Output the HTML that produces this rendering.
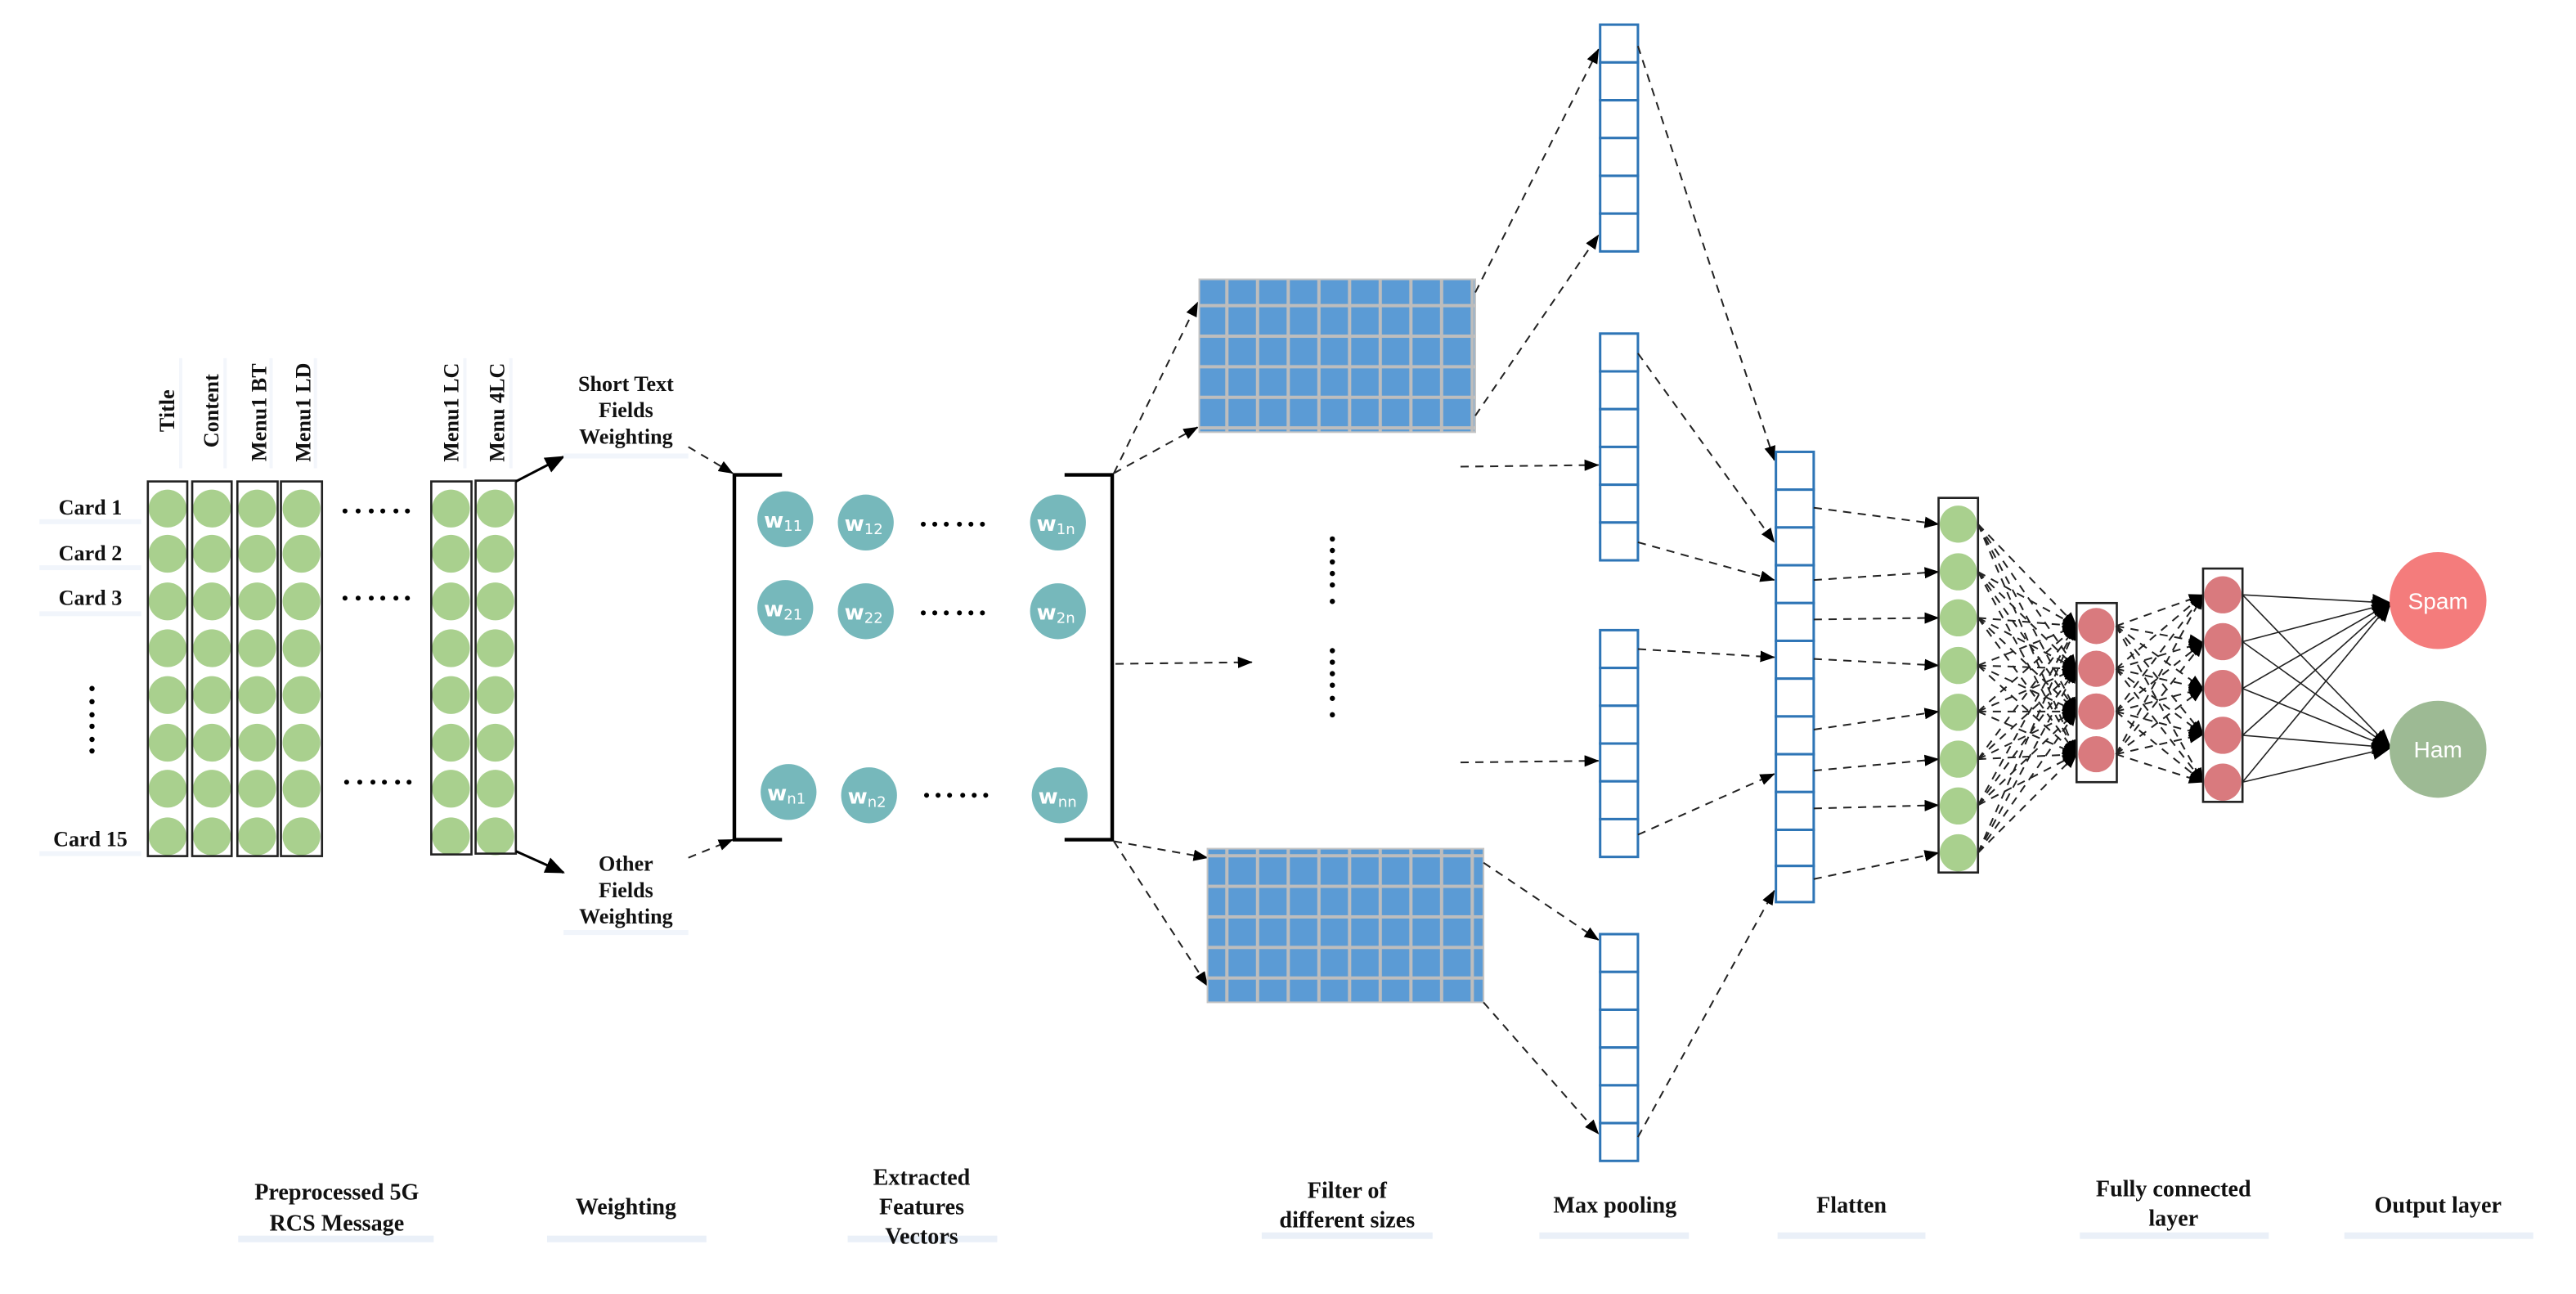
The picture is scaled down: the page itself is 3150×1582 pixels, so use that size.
<!DOCTYPE html>
<html><head><meta charset="utf-8"><style>
html,body{margin:0;padding:0;background:#fff;}
svg{display:block;}
.s{font-family:"Liberation Serif",serif;font-weight:bold;font-size:13px;fill:#111;}
.b{font-family:"Liberation Serif",serif;font-weight:bold;font-size:14px;fill:#111;}
.w{font-family:"DejaVu Sans","Liberation Sans",sans-serif;font-weight:bold;font-size:13px;fill:#fff;}
.ws{font-size:9px;font-weight:normal;}
.dl{stroke:#222;stroke-width:1;stroke-dasharray:5,4;fill:none;}
.sl{stroke:#222;stroke-width:0.8;fill:none;}
.gc{fill:#a9d08e;}
.rc{fill:#d97a7e;}
.tc{fill:#76b8bb;}
.pc{fill:#fff;stroke:#2e75b6;stroke-width:1.5;}
</style></head><body>
<svg width="3150" height="1582" viewBox="0 0 1568 787.5" preserveAspectRatio="none" xmlns="http://www.w3.org/2000/svg">
<defs>
<marker id="a" markerUnits="userSpaceOnUse" markerWidth="12" markerHeight="10" refX="11" refY="5" orient="auto"><path d="M0,0 L12,5 L0,10 z" fill="#000"/></marker>
<marker id="as" markerUnits="userSpaceOnUse" markerWidth="9" markerHeight="7" refX="8.5" refY="3.5" orient="auto"><path d="M0,0 L9,3.5 L0,7 z" fill="#000"/></marker>
<pattern id="grid" x="0" y="0" width="18.67" height="18.6" patternUnits="userSpaceOnUse"><rect width="18.67" height="18.6" fill="#5b9bd5" stroke="#bdbdbd" stroke-width="2"/></pattern>
<g id="col"><circle cx="0" cy="309.5" r="11.5"/><circle cx="0" cy="337" r="11.5"/><circle cx="0" cy="366" r="11.5"/><circle cx="0" cy="394.5" r="11.5"/><circle cx="0" cy="423" r="11.5"/><circle cx="0" cy="452" r="11.5"/><circle cx="0" cy="480" r="11.5"/><circle cx="0" cy="509" r="11.5"/></g>
<g id="pool"><rect x="974" y="15" width="23" height="23"/><rect x="974" y="38" width="23" height="23"/><rect x="974" y="61" width="23" height="23"/><rect x="974" y="84" width="23" height="23"/><rect x="974" y="107" width="23" height="23"/><rect x="974" y="130" width="23" height="23"/></g>
</defs>

<!-- left label boxes -->
<g fill="#f1f5fb">
<rect x="24" y="316" width="62" height="3"/><rect x="24" y="344" width="62" height="3"/><rect x="24" y="372" width="62" height="3"/><rect x="24" y="518" width="62" height="3"/>
</g>
<text class="s" x="55" y="313" text-anchor="middle">Card 1</text>
<text class="s" x="55" y="341" text-anchor="middle">Card 2</text>
<text class="s" x="55" y="368" text-anchor="middle">Card 3</text>
<text class="s" x="55" y="515" text-anchor="middle">Card 15</text>
<g fill="#000"><circle cx="56" cy="419" r="1.6"/><circle cx="56" cy="427" r="1.6"/><circle cx="56" cy="435" r="1.6"/><circle cx="56" cy="442" r="1.6"/><circle cx="56" cy="450" r="1.6"/><circle cx="56" cy="457" r="1.6"/></g>

<!-- column headers -->
<g fill="#f3f6fb"><rect x="109" y="218" width="2" height="67"/><rect x="136" y="218" width="2" height="67"/><rect x="164" y="218" width="2" height="67"/><rect x="191" y="218" width="2" height="67"/><rect x="282" y="218" width="2" height="67"/><rect x="310" y="218" width="2" height="67"/></g>
<text class="s" transform="translate(106,250) rotate(-90)" text-anchor="middle">Title</text>
<text class="s" transform="translate(133,250) rotate(-90)" text-anchor="middle">Content</text>
<text class="s" transform="translate(162,251) rotate(-90)" text-anchor="middle">Menu1 BT</text>
<text class="s" transform="translate(189,251) rotate(-90)" text-anchor="middle">Menu1 LD</text>
<text class="s" transform="translate(279,251) rotate(-90)" text-anchor="middle">Menu1 LC</text>
<text class="s" transform="translate(307,251) rotate(-90)" text-anchor="middle">Menu 4LC</text>

<!-- input columns -->
<g class="gc">
<use href="#col" x="102"/><use href="#col" x="129"/><use href="#col" x="156.5"/><use href="#col" x="183.5"/><use href="#col" x="274.5"/><use href="#col" x="301.5"/>
</g>
<g fill="none" stroke="#222" stroke-width="1.3">
<rect x="90" y="293" width="24" height="228"/><rect x="117" y="293" width="24" height="228"/><rect x="144.5" y="293" width="24.5" height="228"/><rect x="171" y="293" width="25" height="228"/><rect x="262.5" y="293" width="24.5" height="227"/><rect x="289.5" y="292.5" width="24.5" height="227"/>
</g>
<g fill="#000">
<circle cx="210" cy="311" r="1.5"/><circle cx="218" cy="311" r="1.5"/><circle cx="226" cy="311" r="1.5"/><circle cx="233" cy="311" r="1.5"/><circle cx="241" cy="311" r="1.5"/><circle cx="248" cy="311" r="1.5"/>
<circle cx="210" cy="364" r="1.5"/><circle cx="218" cy="364" r="1.5"/><circle cx="226" cy="364" r="1.5"/><circle cx="233" cy="364" r="1.5"/><circle cx="241" cy="364" r="1.5"/><circle cx="248" cy="364" r="1.5"/>
<circle cx="211" cy="476" r="1.5"/><circle cx="219" cy="476" r="1.5"/><circle cx="227" cy="476" r="1.5"/><circle cx="234" cy="476" r="1.5"/><circle cx="242" cy="476" r="1.5"/><circle cx="249" cy="476" r="1.5"/>
</g>

<!-- weighting -->
<line x1="314" y1="293" x2="343" y2="278" stroke="#000" stroke-width="1.5" marker-end="url(#a)"/>
<line x1="314" y1="518" x2="343" y2="531" stroke="#000" stroke-width="1.5" marker-end="url(#a)"/>
<rect x="343" y="276" width="76" height="3" fill="#f1f5fb"/>
<text class="s" x="381" y="238" text-anchor="middle">Short Text</text>
<text class="s" x="381" y="254" text-anchor="middle">Fields</text>
<text class="s" x="381" y="270" text-anchor="middle">Weighting</text>
<rect x="343" y="566" width="76" height="3" fill="#f1f5fb"/>
<text class="s" x="381" y="530" text-anchor="middle">Other</text>
<text class="s" x="381" y="546" text-anchor="middle">Fields</text>
<text class="s" x="381" y="562" text-anchor="middle">Weighting</text>
<line class="dl" x1="419" y1="272" x2="446" y2="288" marker-end="url(#as)"/>
<line class="dl" x1="419" y1="522" x2="446" y2="511" marker-end="url(#as)"/>

<!-- brackets -->
<path d="M476,289 H447 V511 H476" fill="none" stroke="#000" stroke-width="2.2"/>
<path d="M648,289 H677 V511 H648" fill="none" stroke="#000" stroke-width="2.2"/>

<!-- w circles -->
<g class="tc">
<circle cx="478" cy="316" r="17"/><circle cx="527" cy="318" r="17"/><circle cx="644" cy="318" r="17"/>
<circle cx="478" cy="370" r="17"/><circle cx="527" cy="372" r="17"/><circle cx="644" cy="372" r="17"/>
<circle cx="480" cy="482" r="17"/><circle cx="529" cy="484" r="17"/><circle cx="645" cy="484" r="17"/>
</g>
<g class="w">
<text x="465" y="321">w<tspan class="ws" dy="2">11</tspan></text>
<text x="514" y="323">w<tspan class="ws" dy="2">12</tspan></text>
<text x="631" y="323">w<tspan class="ws" dy="2">1n</tspan></text>
<text x="465" y="375">w<tspan class="ws" dy="2">21</tspan></text>
<text x="514" y="377">w<tspan class="ws" dy="2">22</tspan></text>
<text x="631" y="377">w<tspan class="ws" dy="2">2n</tspan></text>
<text x="467" y="487">w<tspan class="ws" dy="2">n1</tspan></text>
<text x="516" y="489">w<tspan class="ws" dy="2">n2</tspan></text>
<text x="632" y="489">w<tspan class="ws" dy="2">nn</tspan></text>
</g>
<g fill="#000">
<circle cx="562" cy="319" r="1.5"/><circle cx="569" cy="319" r="1.5"/><circle cx="576" cy="319" r="1.5"/><circle cx="584" cy="319" r="1.5"/><circle cx="591" cy="319" r="1.5"/><circle cx="598" cy="319" r="1.5"/>
<circle cx="562" cy="373" r="1.5"/><circle cx="569" cy="373" r="1.5"/><circle cx="576" cy="373" r="1.5"/><circle cx="584" cy="373" r="1.5"/><circle cx="591" cy="373" r="1.5"/><circle cx="598" cy="373" r="1.5"/>
<circle cx="564" cy="484" r="1.5"/><circle cx="571" cy="484" r="1.5"/><circle cx="578" cy="484" r="1.5"/><circle cx="586" cy="484" r="1.5"/><circle cx="593" cy="484" r="1.5"/><circle cx="600" cy="484" r="1.5"/>
</g>

<!-- to filters -->
<line class="dl" x1="678" y1="288" x2="729" y2="184" marker-end="url(#as)"/>
<line class="dl" x1="678" y1="288" x2="729" y2="260" marker-end="url(#as)"/>
<line class="dl" x1="679" y1="404" x2="762" y2="403" marker-end="url(#as)"/>
<line class="dl" x1="678" y1="512" x2="735" y2="522" marker-end="url(#as)"/>
<line class="dl" x1="678" y1="512" x2="735" y2="600" marker-end="url(#as)"/>

<!-- filter grids -->
<rect x="730" y="170" width="168" height="93" fill="url(#grid)" stroke="#c4c4c4" stroke-width="1"/>
<rect x="735" y="516.5" width="168" height="93.5" fill="url(#grid)" stroke="#c4c4c4" stroke-width="1"/>
<g fill="#000">
<circle cx="811" cy="328" r="1.6"/><circle cx="811" cy="335" r="1.6"/><circle cx="811" cy="342" r="1.6"/><circle cx="811" cy="349" r="1.6"/><circle cx="811" cy="356" r="1.6"/><circle cx="811" cy="366" r="1.6"/>
<circle cx="811" cy="396" r="1.6"/><circle cx="811" cy="403" r="1.6"/><circle cx="811" cy="410" r="1.6"/><circle cx="811" cy="417" r="1.6"/><circle cx="811" cy="425" r="1.6"/><circle cx="811" cy="435" r="1.6"/>
</g>

<!-- filter to pooling -->
<line class="dl" x1="898" y1="178" x2="973" y2="30" marker-end="url(#as)"/>
<line class="dl" x1="898" y1="253" x2="973" y2="143" marker-end="url(#as)"/>
<line class="dl" x1="889" y1="284" x2="973" y2="283" marker-end="url(#as)"/>
<line class="dl" x1="889" y1="464" x2="973" y2="463" marker-end="url(#as)"/>
<line class="dl" x1="903" y1="525" x2="973" y2="572" marker-end="url(#as)"/>
<line class="dl" x1="903" y1="610" x2="973" y2="690" marker-end="url(#as)"/>

<!-- pooling columns -->
<g class="pc">
<use href="#pool"/><use href="#pool" y="188"/><use href="#pool" y="368.5"/><use href="#pool" y="553.5"/>
</g>

<!-- pooling to flatten -->
<line class="dl" x1="997" y1="28" x2="1080" y2="280" marker-end="url(#as)"/>
<line class="dl" x1="997" y1="215" x2="1080" y2="330" marker-end="url(#as)"/>
<line class="dl" x1="997" y1="330" x2="1080" y2="353" marker-end="url(#as)"/>
<line class="dl" x1="997" y1="395" x2="1080" y2="400" marker-end="url(#as)"/>
<line class="dl" x1="997" y1="508" x2="1080" y2="471" marker-end="url(#as)"/>
<line class="dl" x1="997" y1="692" x2="1080" y2="542" marker-end="url(#as)"/>

<!-- flatten -->
<g class="pc">
<rect x="1081" y="275" width="23" height="23"/><rect x="1081" y="298" width="23" height="23"/><rect x="1081" y="321" width="23" height="23"/><rect x="1081" y="344" width="23" height="23"/><rect x="1081" y="367" width="23" height="23"/><rect x="1081" y="390" width="23" height="23"/><rect x="1081" y="413" width="23" height="23"/><rect x="1081" y="436" width="23" height="23"/><rect x="1081" y="459" width="23" height="23"/><rect x="1081" y="482" width="23" height="23"/><rect x="1081" y="505" width="23" height="22"/><rect x="1081" y="527" width="23" height="22"/>
</g>

<!-- flatten to green -->
<line class="dl" x1="1104" y1="309" x2="1180" y2="319" marker-end="url(#as)"/>
<line class="dl" x1="1104" y1="353" x2="1180" y2="348" marker-end="url(#as)"/>
<line class="dl" x1="1104" y1="377" x2="1180" y2="376" marker-end="url(#as)"/>
<line class="dl" x1="1104" y1="401" x2="1180" y2="405" marker-end="url(#as)"/>
<line class="dl" x1="1104" y1="444" x2="1180" y2="433" marker-end="url(#as)"/>
<line class="dl" x1="1104" y1="469" x2="1180" y2="462" marker-end="url(#as)"/>
<line class="dl" x1="1104" y1="492" x2="1180" y2="490" marker-end="url(#as)"/>
<line class="dl" x1="1104" y1="535" x2="1180" y2="519" marker-end="url(#as)"/>

<!-- green column -->
<g class="gc">
<circle cx="1192" cy="319" r="11.3"/><circle cx="1192" cy="348" r="11.3"/><circle cx="1192" cy="376" r="11.3"/><circle cx="1192" cy="405" r="11.3"/><circle cx="1192" cy="433.5" r="11.3"/><circle cx="1192" cy="462" r="11.3"/><circle cx="1192" cy="490.5" r="11.3"/><circle cx="1192" cy="519" r="11.3"/>
</g>
<rect x="1180" y="303" width="24" height="228" fill="none" stroke="#222" stroke-width="1.3"/>

<!-- green to red1 -->
<g class="dl" stroke-dasharray="4,3">
<line x1="1204" y1="319" x2="1264" y2="381" marker-end="url(#as)"/><line x1="1204" y1="319" x2="1264" y2="407" marker-end="url(#as)"/><line x1="1204" y1="319" x2="1264" y2="433" marker-end="url(#as)"/><line x1="1204" y1="319" x2="1264" y2="459" marker-end="url(#as)"/>
<line x1="1204" y1="348" x2="1264" y2="381" marker-end="url(#as)"/><line x1="1204" y1="348" x2="1264" y2="407" marker-end="url(#as)"/><line x1="1204" y1="348" x2="1264" y2="433" marker-end="url(#as)"/><line x1="1204" y1="348" x2="1264" y2="459" marker-end="url(#as)"/>
<line x1="1204" y1="376" x2="1264" y2="381" marker-end="url(#as)"/><line x1="1204" y1="376" x2="1264" y2="407" marker-end="url(#as)"/><line x1="1204" y1="376" x2="1264" y2="433" marker-end="url(#as)"/><line x1="1204" y1="376" x2="1264" y2="459" marker-end="url(#as)"/>
<line x1="1204" y1="405" x2="1264" y2="381" marker-end="url(#as)"/><line x1="1204" y1="405" x2="1264" y2="407" marker-end="url(#as)"/><line x1="1204" y1="405" x2="1264" y2="433" marker-end="url(#as)"/><line x1="1204" y1="405" x2="1264" y2="459" marker-end="url(#as)"/>
<line x1="1204" y1="433" x2="1264" y2="381" marker-end="url(#as)"/><line x1="1204" y1="433" x2="1264" y2="407" marker-end="url(#as)"/><line x1="1204" y1="433" x2="1264" y2="433" marker-end="url(#as)"/><line x1="1204" y1="433" x2="1264" y2="459" marker-end="url(#as)"/>
<line x1="1204" y1="462" x2="1264" y2="381" marker-end="url(#as)"/><line x1="1204" y1="462" x2="1264" y2="407" marker-end="url(#as)"/><line x1="1204" y1="462" x2="1264" y2="433" marker-end="url(#as)"/><line x1="1204" y1="462" x2="1264" y2="459" marker-end="url(#as)"/>
<line x1="1204" y1="490" x2="1264" y2="381" marker-end="url(#as)"/><line x1="1204" y1="490" x2="1264" y2="407" marker-end="url(#as)"/><line x1="1204" y1="490" x2="1264" y2="433" marker-end="url(#as)"/><line x1="1204" y1="490" x2="1264" y2="459" marker-end="url(#as)"/>
<line x1="1204" y1="519" x2="1264" y2="381" marker-end="url(#as)"/><line x1="1204" y1="519" x2="1264" y2="407" marker-end="url(#as)"/><line x1="1204" y1="519" x2="1264" y2="433" marker-end="url(#as)"/><line x1="1204" y1="519" x2="1264" y2="459" marker-end="url(#as)"/>
</g>

<!-- red1 -->
<g class="rc"><circle cx="1276" cy="381" r="11"/><circle cx="1276" cy="407" r="11"/><circle cx="1276" cy="433" r="11"/><circle cx="1276" cy="459" r="11"/></g>
<rect x="1264" y="367" width="24.5" height="109" fill="none" stroke="#222" stroke-width="1.3"/>

<!-- red1 to red2 -->
<g class="dl" stroke-dasharray="4,3">
<line x1="1288" y1="381" x2="1341" y2="362" marker-end="url(#as)"/><line x1="1288" y1="381" x2="1341" y2="391" marker-end="url(#as)"/><line x1="1288" y1="381" x2="1341" y2="419" marker-end="url(#as)"/><line x1="1288" y1="381" x2="1341" y2="447" marker-end="url(#as)"/><line x1="1288" y1="381" x2="1341" y2="476" marker-end="url(#as)"/>
<line x1="1288" y1="407" x2="1341" y2="362" marker-end="url(#as)"/><line x1="1288" y1="407" x2="1341" y2="391" marker-end="url(#as)"/><line x1="1288" y1="407" x2="1341" y2="419" marker-end="url(#as)"/><line x1="1288" y1="407" x2="1341" y2="447" marker-end="url(#as)"/><line x1="1288" y1="407" x2="1341" y2="476" marker-end="url(#as)"/>
<line x1="1288" y1="433" x2="1341" y2="362" marker-end="url(#as)"/><line x1="1288" y1="433" x2="1341" y2="391" marker-end="url(#as)"/><line x1="1288" y1="433" x2="1341" y2="419" marker-end="url(#as)"/><line x1="1288" y1="433" x2="1341" y2="447" marker-end="url(#as)"/><line x1="1288" y1="433" x2="1341" y2="476" marker-end="url(#as)"/>
<line x1="1288" y1="459" x2="1341" y2="362" marker-end="url(#as)"/><line x1="1288" y1="459" x2="1341" y2="391" marker-end="url(#as)"/><line x1="1288" y1="459" x2="1341" y2="419" marker-end="url(#as)"/><line x1="1288" y1="459" x2="1341" y2="447" marker-end="url(#as)"/><line x1="1288" y1="459" x2="1341" y2="476" marker-end="url(#as)"/>
</g>

<!-- red2 -->
<g class="rc"><circle cx="1353" cy="362" r="11.3"/><circle cx="1353" cy="390.5" r="11.3"/><circle cx="1353" cy="419" r="11.3"/><circle cx="1353" cy="447.5" r="11.3"/><circle cx="1353" cy="476" r="11.3"/></g>
<rect x="1341" y="346" width="24" height="142" fill="none" stroke="#222" stroke-width="1.3"/>

<!-- red2 to output -->
<g class="sl">
<line x1="1365" y1="362" x2="1455" y2="367" marker-end="url(#a)"/><line x1="1365" y1="362" x2="1455" y2="455" marker-end="url(#a)"/>
<line x1="1365" y1="390.5" x2="1455" y2="367" marker-end="url(#a)"/><line x1="1365" y1="390.5" x2="1455" y2="455" marker-end="url(#a)"/>
<line x1="1365" y1="419" x2="1455" y2="367" marker-end="url(#a)"/><line x1="1365" y1="419" x2="1455" y2="455" marker-end="url(#a)"/>
<line x1="1365" y1="447.5" x2="1455" y2="367" marker-end="url(#a)"/><line x1="1365" y1="447.5" x2="1455" y2="455" marker-end="url(#a)"/>
<line x1="1365" y1="476" x2="1455" y2="367" marker-end="url(#a)"/><line x1="1365" y1="476" x2="1455" y2="455" marker-end="url(#a)"/>
</g>
<circle cx="1484" cy="365.5" r="29.5" fill="#f47c7c"/>
<circle cx="1484" cy="456" r="29.5" fill="#9dba94"/>
<text x="1484" y="370.5" text-anchor="middle" font-family="Liberation Sans Narrow, Liberation Sans, sans-serif" font-size="14" fill="#fff">Spam</text>
<text x="1484" y="461" text-anchor="middle" font-family="Liberation Sans Narrow, Liberation Sans, sans-serif" font-size="14" fill="#fff">Ham</text>

<!-- bottom labels -->
<g fill="#eaf0f8">
<rect x="145" y="752" width="119" height="4"/><rect x="333" y="752" width="97" height="4"/><rect x="516" y="752" width="91" height="4"/><rect x="768" y="750" width="104" height="4"/><rect x="937" y="750" width="91" height="4"/><rect x="1082" y="750" width="90" height="4"/><rect x="1266" y="750" width="115" height="4"/><rect x="1427" y="750" width="115" height="4"/>
</g>
<g class="b" text-anchor="middle">
<text x="205" y="730">Preprocessed 5G</text><text x="205" y="749">RCS Message</text>
<text x="381" y="739">Weighting</text>
<text x="561" y="721">Extracted</text><text x="561" y="739">Features</text><text x="561" y="757">Vectors</text>
<text x="820" y="729">Filter of</text><text x="820" y="747">different sizes</text>
<text x="983" y="738">Max pooling</text>
<text x="1127" y="738">Flatten</text>
<text x="1323" y="728">Fully connected</text><text x="1323" y="746">layer</text>
<text x="1484" y="738">Output layer</text>
</g>
</svg>
</body></html>
